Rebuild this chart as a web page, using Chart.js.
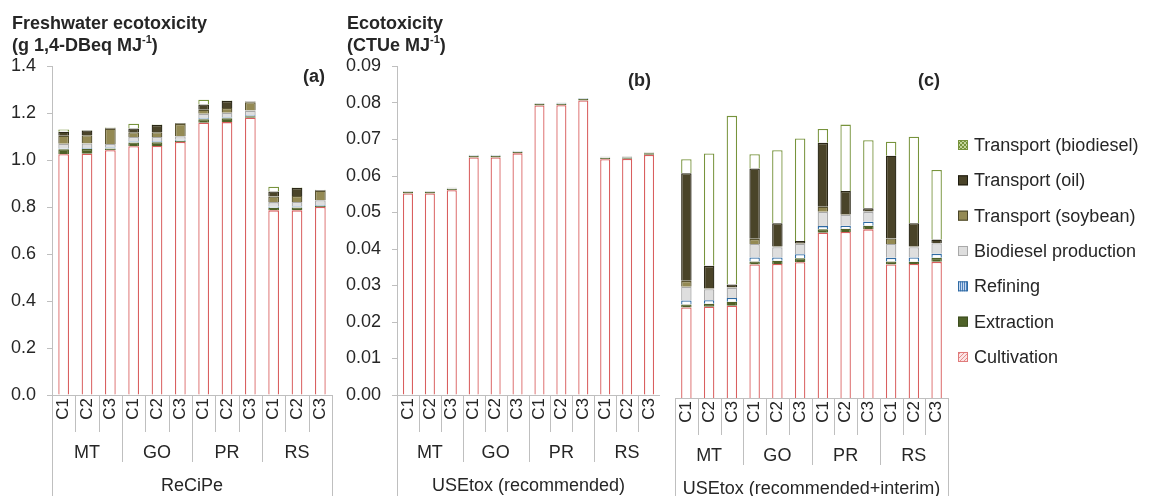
<!DOCTYPE html>
<html>
<head>
<meta charset="utf-8">
<script src="https://cdn.jsdelivr.net/npm/chart.js@4.4.1/dist/chart.umd.min.js"></script>
<style>
  html, body { margin: 0; padding: 0; background: #fff; }
  body { width: 1152px; height: 496px; position: relative; overflow: hidden;
         font-family: "Liberation Sans", Arial, sans-serif; color: #262626; }
  .box { position: absolute; top: 0; height: 496px; }
  .ttl { position: absolute; font-weight: bold; font-size: 18px; line-height: 22px; white-space: nowrap; }
  .ttl sup { font-size: 11px; line-height: 0; vertical-align: 8px; }
  .tag { position: absolute; font-weight: bold; font-size: 18px; line-height: 20px; }
</style>
</head>
<body>
<div class="box" style="left:0;width:340px"><canvas id="chartA"></canvas></div>
<div class="box" style="left:340px;width:320px"><canvas id="chartB"></canvas></div>
<div class="box" style="left:660px;width:492px"><canvas id="chartC"></canvas></div>

<div class="ttl" style="left:12px;top:12px">Freshwater ecotoxicity<br>(g 1,4-DBeq MJ<sup>-1</sup>)</div>
<div class="ttl" style="left:347px;top:12px">Ecotoxicity<br>(CTUe MJ<sup>-1</sup>)</div>
<div class="tag" style="left:303px;top:66px">(a)</div>
<div class="tag" style="left:628px;top:70px">(b)</div>
<div class="tag" style="left:918px;top:70px">(c)</div>

<script>
// categories
const cases = ['C1', 'C2', 'C3', 'C1', 'C2', 'C3', 'C1', 'C2', 'C3', 'C1', 'C2', 'C3'];
const regions = ['MT', 'GO', 'PR', 'RS'];
const seriesNames = ['Cultivation', 'Extraction', 'Refining', 'Biodiesel production',
  'Transport (soybean)', 'Transport (oil)', 'Transport (biodiesel)'];

// (a) ReCiPe, g 1,4-DBeq / MJ
const recipeCultivation = [1.026, 1.028, 1.043, 1.060, 1.061, 1.078, 1.160, 1.163, 1.182, 0.787, 0.787, 0.801];
const recipeExtraction  = [0.021, 0.020, 0.008, 0.016, 0.016, 0.006, 0.015, 0.016, 0.006, 0.011, 0.012, 0.004];
const recipeRefining    = [0.004, 0.004, 0.004, 0.004, 0.004, 0.004, 0.004, 0.004, 0.004, 0.004, 0.004, 0.004];
const recipeBiodiesel   = [0.020, 0.020, 0.015, 0.020, 0.019, 0.015, 0.020, 0.020, 0.020, 0.020, 0.020, 0.021];
const recipeSoyTrans    = [0.034, 0.035, 0.065, 0.020, 0.020, 0.052, 0.017, 0.020, 0.036, 0.024, 0.025, 0.041];
const recipeOilTrans    = [0.017, 0.020, 0.003, 0.016, 0.031, 0.003, 0.022, 0.030, 0.003, 0.021, 0.034, 0.003];
const recipeBioTrans    = [0.010, 0.002, 0.002, 0.020, 0.002, 0.001, 0.020, 0.002, 0.001, 0.021, 0.002, 0.001];

// (b) USEtox recommended, CTUe / MJ
const recCultivation = [0.0552, 0.0552, 0.0561, 0.0651, 0.0651, 0.0662, 0.0793, 0.0794, 0.0807, 0.0646, 0.0647, 0.0658];
const recExtraction  = [0.0004, 0.0004, 0.0004, 0.0004, 0.0004, 0.0004, 0.0004, 0.0004, 0.0004, 0.0004, 0.0004, 0.0004];
const recRefining    = [0.0001, 0.0001, 0.0001, 0.0001, 0.0001, 0.0001, 0.0001, 0.0001, 0.0001, 0.0001, 0.0001, 0.0001];
const recBiodiesel   = [0.0001, 0.0001, 0.0001, 0.0001, 0.0001, 0.0001, 0.0001, 0.0001, 0.0001, 0.0001, 0.0001, 0.0001];
const recSoyTrans    = [0.00005, 0.00005, 0.00005, 0.00005, 0.00005, 0.00005, 0.00005, 0.00005, 0.00005, 0.00005, 0.00005, 0.00005];
const recOilTrans    = [0.00003, 0.00003, 0.00003, 0.00003, 0.00003, 0.00003, 0.00003, 0.00003, 0.00003, 0.00003, 0.00003, 0.00003];
const recBioTrans    = [0.00002, 0.00002, 0.00002, 0.00002, 0.00002, 0.00002, 0.00002, 0.00002, 0.00002, 0.00002, 0.00002, 0.00002];

// (c) USEtox recommended+interim, CTUe / MJ
const intCultivation = [0.0248, 0.0250, 0.0253, 0.0366, 0.0367, 0.0372, 0.0453, 0.0455, 0.0462, 0.0366, 0.0367, 0.0373];
const intExtraction  = [0.0008, 0.0008, 0.0011, 0.0008, 0.0009, 0.0011, 0.0009, 0.0009, 0.0010, 0.0008, 0.0006, 0.0011];
const intRefining    = [0.0011, 0.0010, 0.0010, 0.0011, 0.0009, 0.0011, 0.0009, 0.0008, 0.0011, 0.0010, 0.0012, 0.0011];
const intBiodiesel   = [0.0038, 0.0030, 0.0028, 0.0037, 0.0028, 0.0028, 0.0039, 0.0030, 0.0027, 0.0038, 0.0028, 0.0029];
const intSoyTrans    = [0.0016, 0.0002, 0.0001, 0.0014, 0.0002, 0.0001, 0.0014, 0.0002, 0.0001, 0.0015, 0.0002, 0.0001];
const intOilTrans    = [0.0295, 0.0062, 0.0008, 0.0193, 0.0064, 0.0007, 0.0175, 0.0063, 0.0009, 0.0227, 0.0064, 0.0009];
const intBioTrans    = [0.0038, 0.0308, 0.0462, 0.0039, 0.0200, 0.0281, 0.0038, 0.0182, 0.0186, 0.0038, 0.0237, 0.0191];

const fontFamily = '"Liberation Sans", Arial, sans-serif';
const textColor = '#262626';
const axisColor = '#bfbfbf';

// small fill patterns used by the legend markers
function makePattern(draw) {
  const c = document.createElement('canvas');
  c.width = 4; c.height = 4;
  const g = c.getContext('2d');
  draw(g);
  return g.createPattern(c, 'repeat');
}
const hatchPink = makePattern(g => {
  g.fillStyle = '#fbe4e4'; g.fillRect(0, 0, 4, 4);
  g.fillStyle = '#e58f8f'; g.fillRect(0, 0, 1, 1); g.fillRect(2, 2, 1, 1); g.fillRect(1, 3, 1, 1); g.fillRect(3, 1, 1, 1);
});
const stripeBlue = makePattern(g => {
  g.fillStyle = '#c6d9f0'; g.fillRect(0, 0, 4, 4);
  g.fillStyle = '#4f81bd'; g.fillRect(0, 0, 1, 4); g.fillRect(2, 0, 1, 4);
});
const checkGreen = makePattern(g => {
  g.fillStyle = '#c3d69b'; g.fillRect(0, 0, 4, 4);
  g.fillStyle = '#77933c'; g.fillRect(0, 0, 2, 2); g.fillRect(2, 2, 2, 2);
});

const seriesLook = [
  { bg: '#ffffff', border: '#d95f5f', legend: hatchPink, legendBorder: '#e07a7a' },
  { bg: '#4f6228', border: '#4f6228', legend: '#4f6228', legendBorder: '#3d4d1f' },
  { bg: '#ffffff', border: '#2e6aa3', legend: stripeBlue, legendBorder: '#2e6aa3' },
  { bg: '#dedede', border: '#a9a9a9', legend: '#dedede', legendBorder: '#a9a9a9' },
  { bg: '#948a54', border: '#5a5431', legend: '#948a54', legendBorder: '#4a452a' },
  { bg: '#4a4429', border: '#2a2716', legend: '#4a4429', legendBorder: '#1e1c10' },
  { bg: '#ffffff', border: '#77933c', legend: checkGreen, legendBorder: '#77933c' }
];

function makeDatasets(values) {
  return values.map((data, i) => ({
    label: seriesNames[i],
    data,
    backgroundColor: seriesLook[i].bg,
    borderColor: seriesLook[i].border,
    borderWidth: 1.3,
    categoryPercentage: 0.46,
    barPercentage: 1
  }));
}

// two-level category axis with a title row underneath
const groupAxis = {
  id: 'groupAxis',
  afterDraw(chart, args, opts) {
    const { ctx, chartArea } = chart;
    const xs = chart.scales.x;
    const y0 = chartArea.bottom;
    const n = chart.data.labels.length;
    const per = n / opts.groups.length;
    const edge = i => i === 0 ? chartArea.left : i === n ? chartArea.right
      : (xs.getPixelForValue(i - 1) + xs.getPixelForValue(i)) / 2;

    ctx.save();
    ctx.strokeStyle = axisColor;
    ctx.lineWidth = 1;
    for (let i = 0; i <= n; i++) {
      const bottom = (i === 0 || i === n) ? chart.height : (i % per === 0 ? y0 + 67 : y0 + 37);
      const px = Math.round(edge(i)) + 0.5;
      ctx.beginPath();
      ctx.moveTo(px, y0);
      ctx.lineTo(px, bottom);
      ctx.stroke();
    }

    ctx.fillStyle = textColor;
    ctx.textAlign = 'center';
    ctx.textBaseline = 'middle';
    ctx.font = '17px ' + fontFamily;
    chart.data.labels.forEach((lab, i) => {
      ctx.save();
      ctx.translate(xs.getPixelForValue(i), y0 + 14);
      ctx.rotate(-Math.PI / 2);
      ctx.fillText(lab, 0, 0);
      ctx.restore();
    });

    ctx.font = '18px ' + fontFamily;
    opts.groups.forEach((g, k) => {
      ctx.fillText(g, (edge(k * per) + edge((k + 1) * per)) / 2, y0 + 58);
    });
    ctx.fillText(opts.title, (chartArea.left + chartArea.right) / 2, y0 + 91);
    ctx.restore();
  }
};

// legend drawn on the right of panel (c), top item = last series
const sideLegend = {
  id: 'sideLegend',
  afterDraw(chart, args, opts) {
    const { ctx } = chart;
    ctx.save();
    ctx.font = '18px ' + fontFamily;
    ctx.textBaseline = 'middle';
    ctx.textAlign = 'left';
    const items = chart.data.datasets.map((d, i) => i).reverse();
    items.forEach((i, row) => {
      const cy = opts.top + row * opts.step;
      ctx.fillStyle = seriesLook[i].legend;
      ctx.fillRect(opts.x, cy - 5, 10, 10);
      ctx.strokeStyle = seriesLook[i].legendBorder;
      ctx.lineWidth = 1;
      ctx.strokeRect(opts.x + 0.5, cy - 4.5, 9, 9);
      ctx.fillStyle = textColor;
      ctx.fillText(chart.data.datasets[i].label, opts.x + 16, cy + 1);
    });
    ctx.restore();
  }
};

function yScale(max, step, digits, width, show) {
  return {
    stacked: true,
    display: show,
    min: 0,
    max,
    ticks: {
      stepSize: step,
      color: textColor,
      padding: 11,
      font: { size: 18, family: fontFamily },
      callback: v => Number(v).toFixed(digits)
    },
    grid: { display: true, drawOnChartArea: false, drawTicks: true, tickLength: 5, color: axisColor },
    border: { display: true, color: axisColor },
    afterFit: s => { s.width = width; }
  };
}

function xScale(height) {
  return {
    stacked: true,
    ticks: { display: false },
    grid: { display: false },
    border: { display: true, color: axisColor },
    afterFit: s => { s.height = height; }
  };
}

function makeChart(id, values, y, xHeight, padding, axisOpts, extraPlugins, extraOpts) {
  return new Chart(document.getElementById(id), {
    type: 'bar',
    data: { labels: cases, datasets: makeDatasets(values) },
    options: {
      responsive: true,
      maintainAspectRatio: false,
      animation: false,
      layout: { padding },
      scales: { x: xScale(xHeight), y },
      plugins: Object.assign({
        legend: { display: false },
        tooltip: { enabled: false },
        groupAxis: axisOpts
      }, extraOpts || {})
    },
    plugins: [groupAxis].concat(extraPlugins || [])
  });
}

makeChart('chartA',
  [recipeCultivation, recipeExtraction, recipeRefining, recipeBiodiesel, recipeSoyTrans, recipeOilTrans, recipeBioTrans],
  yScale(1.4, 0.2, 1, 52, true), 101,
  { top: 66.5, right: 8, bottom: 0, left: 0 },
  { groups: regions, title: 'ReCiPe' });

makeChart('chartB',
  [recCultivation, recExtraction, recRefining, recBiodiesel, recSoyTrans, recOilTrans, recBioTrans],
  yScale(0.09, 0.01, 2, 57, true), 101,
  { top: 66.5, right: 0, bottom: 0, left: 0 },
  { groups: regions, title: 'USEtox (recommended)' });

makeChart('chartC',
  [intCultivation, intExtraction, intRefining, intBiodiesel, intSoyTrans, intOilTrans, intBioTrans],
  yScale(0.09, 0.01, 2, 0, false), 98,
  { top: 69.5, right: 204, bottom: 0, left: 15 },
  { groups: regions, title: 'USEtox (recommended+interim)' },
  [sideLegend],
  { sideLegend: { x: 298, top: 145, step: 35.33 } });
</script>
</body>
</html>
